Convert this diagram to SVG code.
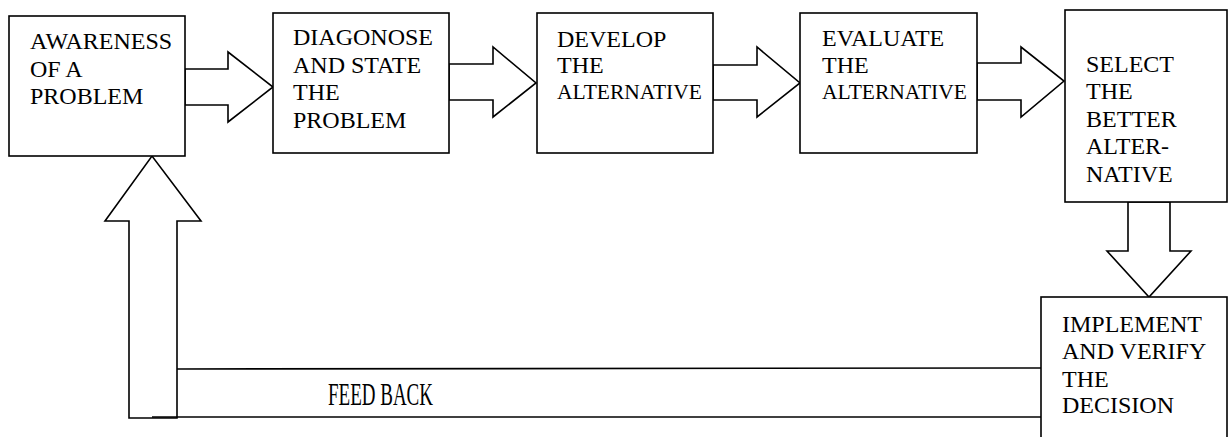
<svg xmlns="http://www.w3.org/2000/svg" width="1228" height="437" viewBox="0 0 1228 437">
<style>
.box{fill:#fff;stroke:#000;stroke-width:1.6}
.arr{fill:#fff;stroke:#000;stroke-width:1.6;stroke-linejoin:miter}
.ln{stroke:#000;stroke-width:1.6;fill:none}
</style>
<rect width="1228" height="437" fill="#fff"/>
<g id="connectors">
<polygon class="arr" points="185,69 228,69 228,52 273,87 228,122 228,105 185,105"/>
<polygon class="arr" points="449,64 493,64 493,47 536,83 493,117 493,100 449,100"/>
<polygon class="arr" points="713,65 757,65 757,47 800,83 757,117 757,100 713,100"/>
<polygon class="arr" points="977,63 1021,63 1021,47 1064,81 1021,117 1021,100 977,100"/>
<polygon class="arr" points="1128,202 1128,251 1107,251 1149,297 1191,251 1170,251 1170,202"/>
<polygon class="arr" points="129,418 129,221 105,221 152,156 201,221 177,221 177,418"/>
<line class="ln" x1="177" y1="369" x2="1041" y2="368"/>
<line class="ln" x1="152" y1="417" x2="1041" y2="417"/>
<text x="328" y="405" font-family="Liberation Serif" font-size="31" textLength="105" lengthAdjust="spacingAndGlyphs">FEED BACK</text>
</g>
<g id="n1" font-family="Liberation Serif" font-size="24">
<rect class="box" x="9" y="16" width="176" height="140"/>
<text x="30" y="49">AWARENESS</text>
<text x="30" y="77">OF A</text>
<text x="30" y="104">PROBLEM</text>
</g>
<g id="n2" font-family="Liberation Serif" font-size="24">
<rect class="box" x="273" y="13" width="176" height="140"/>
<text x="293" y="45">DIAGONOSE</text>
<text x="293" y="73">AND STATE</text>
<text x="293" y="100">THE</text>
<text x="293" y="128">PROBLEM</text>
</g>
<g id="n3" font-family="Liberation Serif" font-size="24">
<rect class="box" x="537" y="13" width="176" height="140"/>
<text x="557" y="47">DEVELOP</text>
<text x="557" y="73">THE</text>
<text x="557" y="99" font-size="21.5">ALTERNATIVE</text>
</g>
<g id="n4" font-family="Liberation Serif" font-size="24">
<rect class="box" x="800" y="13" width="177" height="140"/>
<text x="822" y="46">EVALUATE</text>
<text x="822" y="73">THE</text>
<text x="822" y="99" font-size="21.5">ALTERNATIVE</text>
</g>
<g id="n5" font-family="Liberation Serif" font-size="24">
<rect class="box" x="1065" y="10" width="162" height="192"/>
<text x="1086" y="72">SELECT</text>
<text x="1086" y="99">THE</text>
<text x="1086" y="127">BETTER</text>
<text x="1086" y="154">ALTER-</text>
<text x="1086" y="182">NATIVE</text>
</g>
<g id="n6" font-family="Liberation Serif" font-size="24">
<rect class="box" x="1041" y="297" width="186" height="160"/>
<text x="1062" y="332">IMPLEMENT</text>
<text x="1062" y="359">AND VERIFY</text>
<text x="1062" y="387">THE</text>
<text x="1062" y="413">DECISION</text>
</g>
</svg>
